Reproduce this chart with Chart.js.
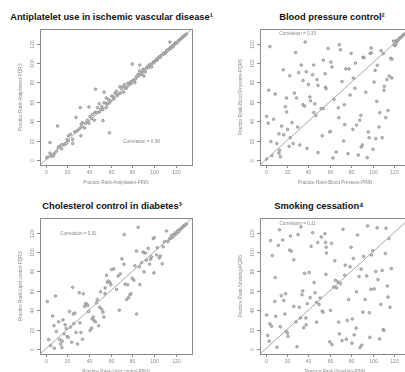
<!DOCTYPE html>
<html>
<head>
<meta charset="utf-8">
<script src="https://cdn.jsdelivr.net/npm/chart.js@4"></script>
<style>
  html, body { margin: 0; padding: 0; background: #fff; overflow: hidden; width: 405px; height: 372px; }
  .wrap { position: relative; width: 405px; height: 372px; }
  canvas { position: absolute; }
  .ttl { position: absolute; font: bold 9.3px "Liberation Sans", Arial, sans-serif; color: #111; white-space: nowrap; transform: translate(-50%, -50%); }
</style>
</head>
<body>
<div class="wrap">
  <div class="ttl" style="left:111.5px; top:17px">Antiplatelet use in ischemic vascular disease¹</div>
  <div class="ttl" style="left:332px; top:17px">Blood pressure control²</div>
  <div class="ttl" style="left:112px; top:206px">Cholesterol control in diabetes³</div>
  <div class="ttl" style="left:319px; top:206px">Smoking cessation⁴</div>
  <canvas id="c1" width="200" height="186" style="left:0; top:0"></canvas>
  <canvas id="c2" width="215" height="186" style="left:200px; top:0"></canvas>
  <canvas id="c3" width="200" height="186" style="left:0; top:189px"></canvas>
  <canvas id="c4" width="215" height="186" style="left:200px; top:189px"></canvas>
</div>
<script>
// practice ranks: PINN (x) vs PQRS (y)
var antiX = [1,2,4,5,7,8,10,11.7,13,14.8,15,17,19,20,21,21,23,25,25,27,29,31,32.6,33,34,36,37,38.5,40,41,42.5,43.4,45,45.5,47,48,49.5,51,52,53,54,56,56,58,59,61,62.5,64,65.5,67,68.6,70,71.7,72,73,75,76,78.5,81,82.5,84,85.5,87,88.6,90,90.8,93,94.8,96.3,97.8,99.4,101,102.5,105,107,108.6,110,111.7,113,114,115,116,117,118,119,120,121,122,123,124,125,126,127,128,129,130,
            80,87,46,54,56,32,11,28,4,59,53,49.5,33,40,114.8,
            86,89,91,92,95,98,100,103,104,106,109,111,112,57,60,63,66,69,74,77,79,80,83];
var antiY = [2,3,7,4,4,6.5,9,12.7,14.4,11.7,16,15.5,17,21,25,19.6,26.5,21,17,29,30,32,25,34,38.5,33,38,41,38,44.7,42.6,47,41,49,49,54,49.5,52,55,52,59,54,58.5,62.6,59,66,65,68.8,71,67.7,75.6,73.6,76,70,77.7,74.6,79,80.5,82.5,79.8,86,88.4,91.8,88.4,93.5,86.7,95,97,98.7,96,101,102,104,106.6,108,109,110,112.4,113.5,114,116,115.5,118,117,119.5,121,120.5,122,123.5,124,125.5,126,127.5,128,129,130,
            99,98,73,70,64,54,35,44,18,28,40.6,58,37,54.7,121.7,
            87,90,92.5,91,95.5,99,100.5,103,105,106,110.5,111,113,57.5,61,63,66.5,69,74,77.5,79,81,83.5];

var bpX = [1,4,3,9,1,2.5,7.5,5,10.5,12.5,15,12.5,14,6,13,16.5,18.5,19.8,19.5,17,20.5,22,23,24.7,22.6,27,29,28,30,32,25.7,31,33.4,35,35,36.5,37,38,38.7,40,41.4,42,45,44,48,46,45,47,49,49,52,54,53,54,55.7,56,56.5,58.5,60,60.6,61,62,63,64,66,68,68.5,69,70,71.5,73,73.6,74,75,77,78,79,80,81.6,82,83.5,84,85,86.6,88,89,89.4,90.6,91,92,93.7,95,96,96.8,97.7,98.7,99,100.5,101.5,102.4,103,104.5,104,106,106.7,108,109,110,110.7,111,112.3,113.5,114.5,115.7,117,118,118,119.7,121,120,122,122,123,124,125,126,127,128,129,130];
var bpY = [1,117,72,68,45,38,42,19,17,27,35,7,3.4,4.5,10,93,55,49.5,64,26,31.6,14,23,38.5,87,69,64,111,34,15.5,17,90,98,82,57,55.7,121.7,91,12,78,65,61,98,88,83,58,49,46,77,7.6,53,53,25,103,89,75,73.6,115,29,29.5,101,96,2,62.6,8.2,54,43.7,119,113.8,81,19.6,57,36.5,94,6.5,94,67,110,31.6,84.6,74,100,36,5,41,46,13.4,15.5,106,105.6,70,2.4,29,23,110,115.5,110.6,11,80.5,92.5,22,97.7,60.5,34,48.8,112.8,23,109.7,72,76,43.7,83,51,86.7,105,104,84.6,122.8,118,119,120,123,122.5,124,125.5,126,127,128.5,129,130];

var cholX = [1.5,2.8,4.6,6.5,9,7.7,8,10,12,13,14,15,15.4,16,17,18,19,20,21,22,23,24,25,25.5,27,26,28,29.5,31,31.7,32.6,34,34.8,36,37,38,38.8,39.7,41,42.5,43,44,45,46,47,47.7,49,50,50.8,51.7,53,53.8,54.8,55,56.3,57,58,59.4,60.3,61,63,65.5,67,68,69,70.5,72.3,73.5,74.8,75.7,76.6,77.8,78.8,80,81.5,82.5,84,84,86.5,87,88.6,90,91,92,93,94.8,96,97,97.8,99.4,100,100.3,102.5,103,105,106,107.7,108.6,110,111.7,113,114.8,72.6,85.5,
            115,116,117,118,119,120,121,122,123,124,125,126,127,128,129,130];
var cholY = [49,9.7,3.5,34,54.7,24,0.7,18,28,9.7,5,1.4,8,30,15.6,25,21,12.8,12,38.7,22.5,7,63.7,36,37,26,17,5,58,27,17,10,57,44,47,46,45,38.7,19,21.5,31,33,29,28,47.7,51,24,43,59,41,38,33,57,63,76,69,70,68.5,66.4,82,82.7,61.6,75.4,40,77.5,93,87.5,66.8,51,66.4,53,56,57,73,71,85.8,101,36,85,66.4,89,100,79.6,99,91.7,103.8,87.5,92.7,95,114,78.5,115,97,104.5,94,96,88,105.5,110.7,121.8,111,114,118,125.6,
            114,117,115,118,117.5,120,119,122,121,123.5,124,125.5,126,127.5,128,129];

var smokeX = [1,2,3.4,4.6,6.4,4,5.5,9,8.6,9.5,10.7,12,13,13.8,14.7,16,17,18,18.7,19.3,20.3,21,22.4,24,23.3,26.4,26.4,28.5,29.4,30.4,31.6,32.5,33,34,34.7,35.6,36.5,37.7,38,39,40.8,41.7,42.6,44,45.4,46.3,47.5,47.8,48.8,50,51,52,53,53.7,55.5,56,56.4,56.7,57,61.7,60.7,60,62,63.8,64.7,65.3,66.3,67.8,68.4,69,70,71.5,72.4,74,74.5,75.5,76.4,77.6,79,80,80.7,81,82,82.8,84.7,85,86,87.4,88.3,89.3,90,91,91.7,93,94.5,95.4,97,97.5,98.5,99,100.3,101.5,103,104.3,105,106.7,107.7,109,110,110.7,112,112.6,113.8,114.4,115.3,116.3,117.5];
var smokeY = [35,14,8,112,96.5,26,23.5,73.7,49,33.6,1.7,107,123,23,55,112.5,50,36,57,18,16.6,13,102,101,116.6,92,44,28,2.4,118,43,32,126,56,60,22,78,32,25,46.7,79,53,106,120,68.5,58,48,27.7,110,46,52.6,115.6,39,38,119,110,77,105,99,109,39.8,7.3,4.5,64,91,71,63,69,27.7,15.6,67.5,8.6,123.5,76,86.5,10,29.4,51,84.8,105,6,31,93.4,14.5,21.5,59,117.6,74.7,1.4,82.4,4,38,95.5,51,75.4,127,37.4,12,61.6,97,101.4,62,80,125,71.6,10.4,46,81,20,19,98.6,124.6,65,53.6,114,43,83];

var tickVals = [0, 20, 40, 60, 80, 100, 120];
var lim = [-5.2, 135.2];

var panels = [
  { id: 'c1', xs: antiX, ys: antiY, xl: 'Practice Rank-Antiplatelet-PINN', yl: 'Practice Rank-Antiplatelet-PQRS', corr: 'Correlation = 0.98', cx: 88.5, cy: 18.6, pad: { left: 40, top: 29, right: 8, bottom: 21 } },
  { id: 'c2', xs: bpX, ys: bpY, xl: 'Practice Rank-Blood Pressure-PINN', yl: 'Practice Rank-Blood Pressure-PQRS', corr: 'Correlation = 0.35', cx: 30, cy: 130, pad: { left: 60, top: 29, right: 3, bottom: 21 } },
  { id: 'c3', xs: cholX, ys: cholY, xl: 'Practice Rank-Lipid control-PINN', yl: 'Practice Rank-Lipid control-PQRS', corr: 'Correlation = 0.91', cx: 30.3, cy: 118.7, pad: { left: 40, top: 29, right: 8, bottom: 21 } },
  { id: 'c4', xs: smokeX, ys: smokeY, xl: 'Practice Rank-Smoking-PINN', yl: 'Practice Rank-Smoking-PQRS', corr: 'Correlation = 0.11', cx: 30, cy: 129, pad: { left: 60, top: 29, right: 3, bottom: 21 } }
];

// R-style box, ticks and labels
var rAxes = {
  id: 'rAxes',
  afterDraw: function(chart, args, o) {
    var ctx = chart.ctx, a = chart.chartArea, x = chart.scales.x, y = chart.scales.y;
    ctx.save();
    ctx.strokeStyle = '#8a8a8a';
    ctx.lineWidth = 1;
    ctx.strokeRect(Math.round(a.left) + 0.5, Math.round(a.top) + 0.5, Math.round(a.right - a.left), Math.round(a.bottom - a.top));
    ctx.fillStyle = '#8a8a8a';
    ctx.font = '5px "Liberation Sans", Arial, sans-serif';
    ctx.textAlign = 'center';
    ctx.textBaseline = 'middle';
    tickVals.forEach(function(v) {
      var px = Math.round(x.getPixelForValue(v)) + 0.5;
      ctx.beginPath(); ctx.moveTo(px, a.bottom); ctx.lineTo(px, a.bottom + 3); ctx.stroke();
      ctx.fillText(String(v), px, a.bottom + 8);
      var py = Math.round(y.getPixelForValue(v)) + 0.5;
      ctx.beginPath(); ctx.moveTo(a.left, py); ctx.lineTo(a.left - 3, py); ctx.stroke();
      ctx.save();
      ctx.translate(a.left - 7.5, py);
      ctx.rotate(-Math.PI / 2);
      ctx.fillText(String(v), 0, 0);
      ctx.restore();
    });
    ctx.font = '4.6px "Liberation Sans", Arial, sans-serif';
    ctx.fillText(o.xl, (a.left + a.right) / 2, a.bottom + 18);
    ctx.save();
    ctx.translate(a.left - 19, (a.top + a.bottom) / 2);
    ctx.rotate(-Math.PI / 2);
    ctx.fillText(o.yl, 0, 0);
    ctx.restore();
    ctx.fillText(o.corr, x.getPixelForValue(o.cx), y.getPixelForValue(o.cy));
    ctx.restore();
  }
};

panels.forEach(function(p) {
  var pts = p.xs.map(function(v, i) { return { x: v, y: p.ys[i] }; });
  new Chart(document.getElementById(p.id), {
    type: 'scatter',
    data: {
      datasets: [
        {
          data: pts,
          pointRadius: 1.3,
          pointBackgroundColor: '#c4c4c4',
          pointBorderColor: '#8c8c8c',
          pointBorderWidth: 0.8,
          order: 2
        },
        {
          type: 'line',
          data: [{ x: lim[0], y: lim[0] }, { x: lim[1], y: lim[1] }],
          borderColor: '#a8a8a8',
          borderWidth: 1,
          pointRadius: 0,
          order: 1
        }
      ]
    },
    options: {
      responsive: false,
      animation: false,
      devicePixelRatio: 1,
      layout: { padding: p.pad },
      plugins: {
        legend: { display: false },
        tooltip: { enabled: false },
        rAxes: { xl: p.xl, yl: p.yl, corr: p.corr, cx: p.cx, cy: p.cy }
      },
      scales: {
        x: { type: 'linear', min: lim[0], max: lim[1], display: false },
        y: { type: 'linear', min: lim[0], max: lim[1], display: false }
      }
    },
    plugins: [rAxes]
  });
});
</script>
</body>
</html>
